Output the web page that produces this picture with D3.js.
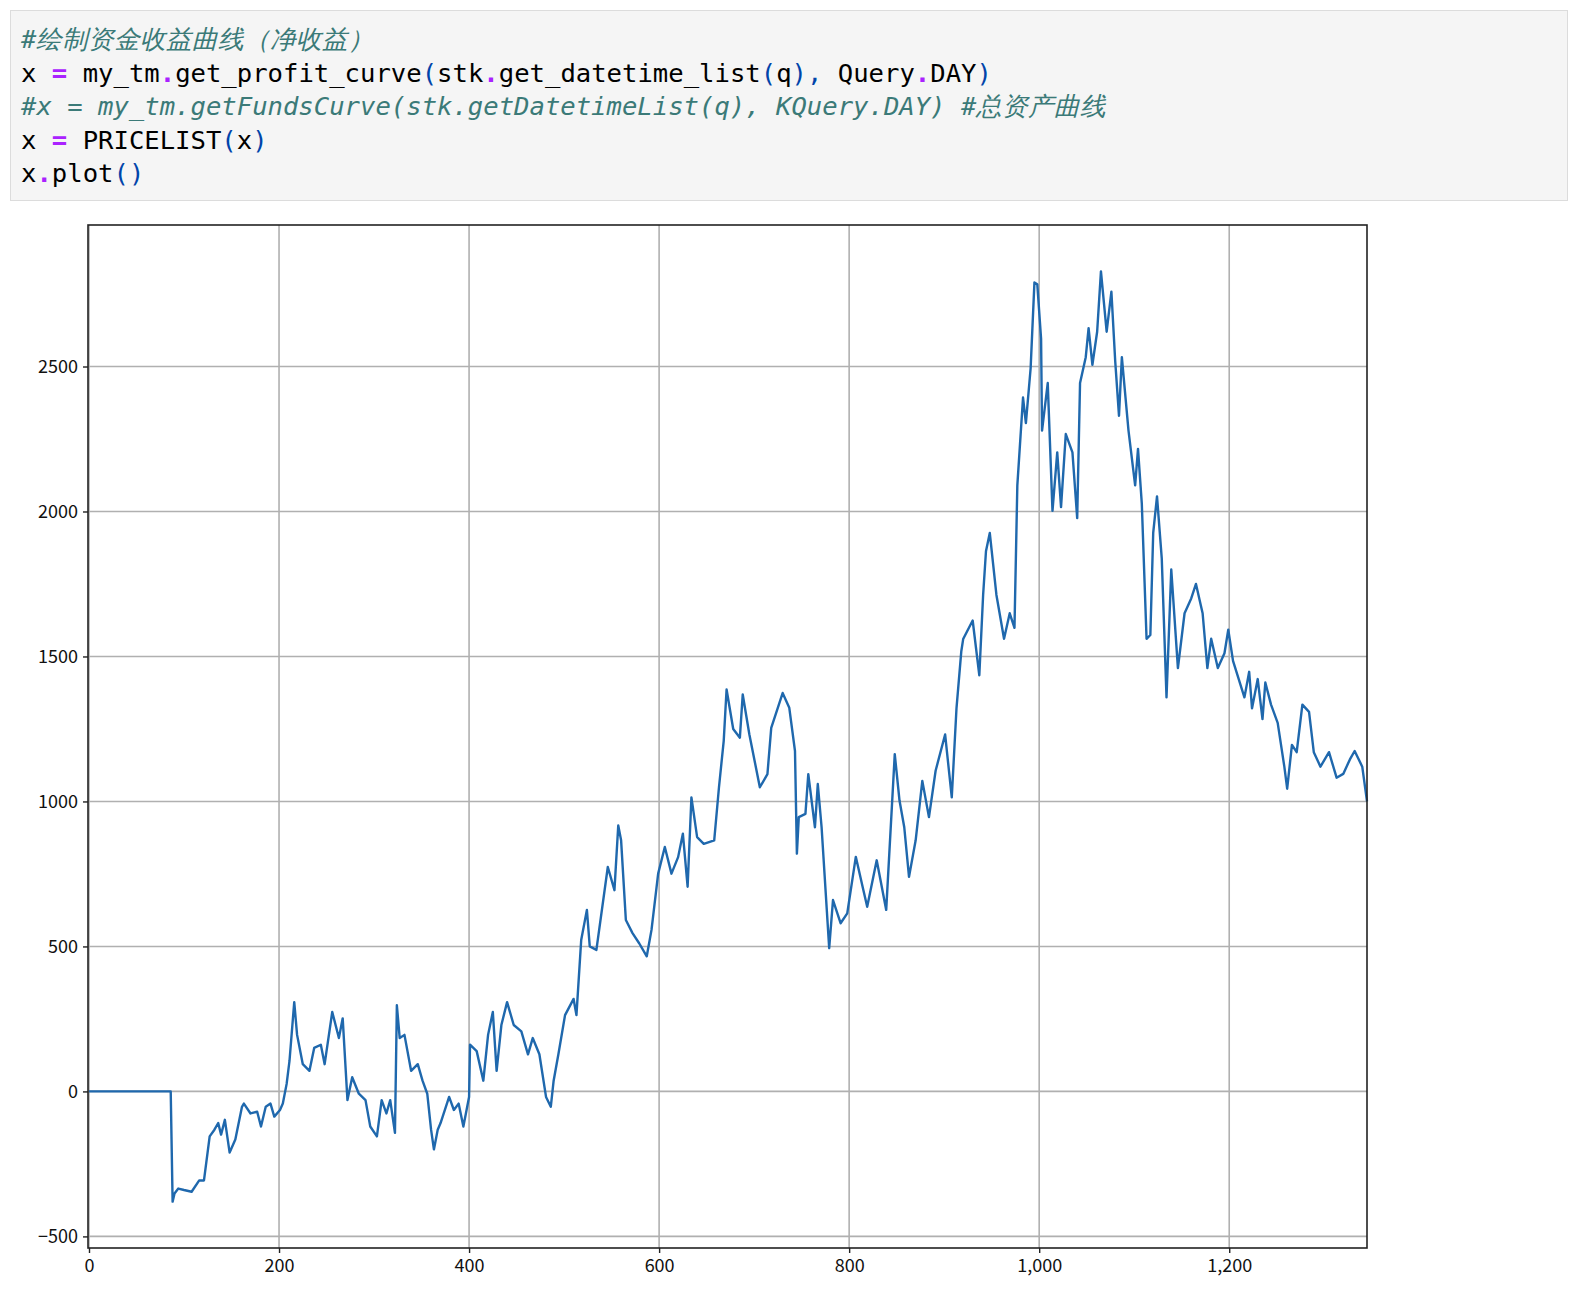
<!DOCTYPE html>
<html>
<head>
<meta charset="utf-8">
<script src="https://cdn.jsdelivr.net/npm/d3@7"></script>
<style>
  body { margin: 0; background: #fff; }
  .cell { position: absolute; left: 10px; top: 10px; width: 1556px; height: 189px;
          background: #f5f5f5; border: 1px solid #dcdcdc; }
  .code { position: absolute; left: 10px; top: 12px; margin: 0;
          font-family: "DejaVu Sans Mono", monospace; font-size: 25.6px; line-height: 33.5px; color: #000; }
  .c { color: #3b7a78; font-style: italic; }
  .o { color: #aa22ff; font-weight: bold; }
  .p { color: #0044aa; }
  #viz { position: absolute; left: 0; top: 0; }
</style>
</head>
<body>
<div class="cell"><pre class="code"><span class="c">#绘制资金收益曲线（净收益）</span>
x <span class="o">=</span> my_tm<span class="o">.</span>get_profit_curve<span class="p">(</span>stk<span class="o">.</span>get_datetime_list<span class="p">(</span>q<span class="p">),</span> Query<span class="o">.</span>DAY<span class="p">)</span>
<span class="c">#x = my_tm.getFundsCurve(stk.getDatetimeList(q), KQuery.DAY) #总资产曲线</span>
x <span class="o">=</span> PRICELIST<span class="p">(</span>x<span class="p">)</span>
x<span class="o">.</span>plot<span class="p">()</span></pre></div>
<div id="viz"></div>
<script>
// net profit curve as [index, value]
const curveX = [0,86,88,90,94,100,108,116,121,127,132,136,139,143,148,154,161,163,170,177,181,186,191,195,201,204,208,211,216,219,225,232,237,244,248,256,263,267,272,277,284,291,296,303,308,313,317,322,324,327,332,339,346,351,356,360,363,367,370,379,384,389,394,400,401,408,415,420,425,429,434,440,447,455,462,467,474,481,486,489,494,501,510,513,518,524,527,534,546,553,557,560,565,572,579,587,592,599,606,613,620,625,630,634,640,647,658,663,668,671,678,685,688,695,706,714,718,730,737,743,745,747,754,757,764,767,771,779,783,791,798,807,815,819,829,839,848,853,858,863,870,877,884,891,901,908,913,918,920,930,937,941,944,948,955,963,969,974,977,983,986,991,995,998,1002,1003,1009,1014,1019,1023,1028,1035,1040,1043,1049,1052,1056,1061,1065,1071,1076,1080,1084,1087,1094,1101,1104,1108,1113,1117,1120,1124,1129,1134,1139,1146,1153,1160,1165,1172,1177,1181,1188,1195,1199,1204,1216,1221,1224,1230,1235,1238,1244,1251,1258,1261,1266,1271,1277,1284,1289,1296,1305,1313,1320,1327,1332,1340,1345];
const curveY = [0,0,-380,-352,-335,-340,-346,-307,-307,-155,-132,-109,-149,-98,-211,-166,-53,-42,-76,-70,-121,-53,-42,-87,-64,-42,26,105,308,195,94,71,150,161,94,274,184,252,-30,49,-8,-30,-121,-155,-30,-76,-30,-143,297,184,195,71,94,37,-8,-132,-200,-132,-109,-19,-64,-42,-121,-19,161,139,37,195,274,71,229,308,229,207,128,184,128,-19,-53,37,128,263,319,263,522,626,500,488,774,694,917,866,591,546,511,466,557,751,843,751,808,889,706,1014,877,854,866,1049,1209,1386,1250,1220,1369,1231,1049,1094,1254,1374,1323,1174,820,946,957,1094,911,1060,911,494,660,580,614,809,694,637,797,626,1163,1003,911,740,866,1071,946,1106,1231,1014,1323,1517,1560,1624,1435,1712,1863,1926,1712,1561,1649,1599,2090,2393,2305,2494,2790,2784,2595,2279,2443,2002,2204,2015,2267,2204,1977,2443,2532,2632,2506,2620,2828,2620,2758,2519,2330,2532,2279,2090,2216,2027,1561,1574,1926,2052,1838,1359,1800,1460,1649,1700,1750,1649,1460,1561,1460,1511,1592,1485,1359,1447,1321,1422,1284,1410,1334,1271,1120,1044,1195,1170,1334,1309,1170,1120,1170,1082,1095,1145,1174,1120,1000];
const xTicks = [0, 200, 400, 600, 800, 1000, 1200];
const yTicks = [-500, 0, 500, 1000, 1500, 2000, 2500];

const dims = { width: 1588, height: 1316, left: 88, right: 1367, top: 225, bottom: 1248 };

const svg = d3.select('#viz').append('svg')
  .attr('width', dims.width).attr('height', dims.height);

const xScale = d3.scaleLinear().domain([0, 1345]).range([dims.left + 1, dims.right]);
const yScale = d3.scaleLinear().domain([-540, 2988]).range([dims.bottom, dims.top]);

// grid
svg.append('g').selectAll('line').data(xTicks).join('line')
  .attr('x1', d => xScale(d)).attr('x2', d => xScale(d))
  .attr('y1', dims.top).attr('y2', dims.bottom)
  .attr('stroke', '#b0b0b0').attr('stroke-width', 1.6)
svg.append('g').selectAll('line').data(yTicks).join('line')
  .attr('x1', dims.left).attr('x2', dims.right)
  .attr('y1', d => yScale(d)).attr('y2', d => yScale(d))
  .attr('stroke', '#b0b0b0').attr('stroke-width', 1.6)

const points = curveX.map((x, i) => [x, curveY[i]]);
svg.append('path')
  .attr('d', d3.line().x(d => xScale(d[0])).y(d => yScale(d[1]))(points))
  .attr('fill', 'none').attr('stroke', '#1f68ad').attr('stroke-width', 2.4)
  .attr('stroke-linejoin', 'round')

// frame
svg.append('rect')
  .attr('x', dims.left).attr('y', dims.top)
  .attr('width', dims.right - dims.left).attr('height', dims.bottom - dims.top)
  .attr('fill', 'none').attr('stroke', '#222').attr('stroke-width', 1.6)

const xAxis = svg.append('g')
  .attr('transform', `translate(0,${dims.bottom})`)
  .call(d3.axisBottom(xScale).tickValues(xTicks).tickSize(5).tickPadding(6))
const yAxis = svg.append('g')
  .attr('transform', `translate(${dims.left},0)`)
  .call(d3.axisLeft(yScale).tickValues(yTicks).tickSize(5).tickPadding(5).tickFormat(d => d < 0 ? '−' + (-d) : d))

;[xAxis, yAxis].forEach(a => {
  a.select('.domain').remove()
  a.selectAll('line').attr('stroke', '#222').attr('stroke-width', 1.4)
  a.selectAll('text').attr('font-family', '"Noto Sans CJK SC", "Noto Sans", sans-serif')
    .attr('font-size', 18).attr('fill', '#111')
})
</script>
</body>
</html>
